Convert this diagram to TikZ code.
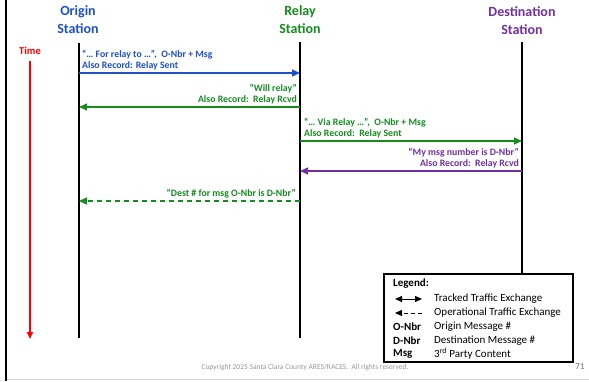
\documentclass[tikz,border=0pt]{standalone}
\usepackage{fontspec}
\setmainfont{Carlito}
\usetikzlibrary{arrows.meta}

\begin{document}
\begin{tikzpicture}[x=1pt,y=-1pt,
    title/.style={font=\fontsize{14}{18}\selectfont\bfseries,align=center},
    msglabel/.style={font=\fontsize{9.8}{11}\selectfont\bfseries,inner sep=1pt},
    legendtext/.style={font=\fontsize{11}{13}\selectfont,anchor=west,inner sep=0pt},
    lifeline/.style={line width=2.6pt},
    traffic/.style={line width=1.2pt,-{Triangle[length=8pt,width=7pt]}}]
  \definecolor{kBlue}{RGB}{30,80,200}
  \definecolor{kGreen}{RGB}{20,140,30}
  \definecolor{kPurple}{RGB}{112,48,160}
  \definecolor{kRed}{RGB}{255,0,0}
  \definecolor{kGrey}{RGB}{150,150,150}

  \useasboundingbox (0,0) rectangle (589,381);

  % page edges
  \draw[line width=2pt] (6,0) -- (6,381);
  \draw[color=kGrey!40,line width=1pt] (7,379.5) -- (589,379.5);

  % stations
  \node[title,text=kBlue]   (origin) at (78,20)  {Origin\\Station};
  \node[title,text=kGreen]  (relay)  at (300,20) {Relay\\Station};
  \node[title,text=kPurple] (dest)   at (522,21) {Destination\\Station};

  \coordinate (oTop) at (79,43);  \coordinate (oBot) at (79,338);
  \coordinate (rTop) at (300,42); \coordinate (rBot) at (300,338);
  \coordinate (dTop) at (522,42); \coordinate (dBot) at (522,274);
  \draw[lifeline] (oTop) -- (oBot);
  \draw[lifeline] (rTop) -- (rBot);
  \draw[lifeline] (dTop) -- (dBot);

  % time axis
  \node[font=\fontsize{10.5}{12}\selectfont\bfseries,text=kRed] (time) at (30,51) {Time};
  \coordinate (tTop) at (30,61);
  \coordinate (tBot) at (30,339);
  \draw[color=kRed,line width=1.6pt,-{Triangle[length=7pt,width=6pt]}] (tTop) -- (tBot);

  % messages
  \coordinate (m1a) at (79,73);  \coordinate (m1b) at (300,73);
  \coordinate (m2a) at (300,107); \coordinate (m2b) at (79,107);
  \coordinate (m3a) at (300,141); \coordinate (m3b) at (522,141);
  \coordinate (m4a) at (522,171); \coordinate (m4b) at (300,171);
  \coordinate (m5a) at (300,201); \coordinate (m5b) at (79,201);

  \draw[traffic,color=kBlue] (m1a) -- (m1b);
  \node[msglabel,text=kBlue,align=left,anchor=south west,xshift=2pt,yshift=2pt] (l1) at (m1a)
    {“… For relay to …”,\ \ O-Nbr + Msg\\Also Record: Relay Sent};

  \draw[traffic,color=kGreen] (m2a) -- (m2b);
  \node[msglabel,text=kGreen,align=right,anchor=south east,xshift=-2pt,yshift=2pt] (l2) at (m2a)
    {“Will relay”\\Also Record:\ \ Relay Rcvd};

  \draw[traffic,color=kGreen] (m3a) -- (m3b);
  \node[msglabel,text=kGreen,align=left,anchor=south west,xshift=3pt,yshift=2pt] (l3) at (m3a)
    {“… Via Relay …”,\ \ O-Nbr + Msg\\Also Record:\ \ Relay Sent};

  \draw[traffic,color=kPurple] (m4a) -- (m4b);
  \node[msglabel,text=kPurple,align=right,anchor=south east,xshift=-2pt,yshift=2pt] (l4) at (m4a)
    {“My msg number is D-Nbr”\\Also Record:\ \ Relay Rcvd};

  \draw[traffic,color=kGreen,dash pattern=on 5pt off 4pt] (m5a) -- (m5b);
  \node[msglabel,text=kGreen,anchor=south east,xshift=-3pt,yshift=2pt] (l5) at (m5a)
    {“Dest \# for msg O-Nbr is D-Nbr”};

  % legend
  \draw[line width=1.5pt,fill=white] (384,274) rectangle (573,362);
  \node[legendtext,font=\fontsize{11}{13}\selectfont\bfseries] (legend) at (393,284) {Legend:};
  \coordinate (k1a) at (395,299); \coordinate (k1b) at (422,299);
  \coordinate (k2a) at (422,313); \coordinate (k2b) at (395,313);
  \draw[line width=1pt,{Triangle[length=7pt,width=6pt]}-{Triangle[length=7pt,width=6pt]}] (k1a) -- (k1b);
  \draw[line width=1pt,dash pattern=on 4pt off 3pt,-{Triangle[length=7pt,width=6pt]}] (k2a) -- (k2b);
  \node[legendtext] (tracked) at (434,299) {Tracked Traffic Exchange};
  \node[legendtext] (oper)    at (434,313) {Operational Traffic Exchange};
  \foreach \y/\abbr/\desc in {327/O-Nbr/Origin Message \#,
                              341/D-Nbr/Destination Message \#,
                              354/Msg/3\textsuperscript{rd} Party Content}
  {
    \node[legendtext,font=\fontsize{11}{13}\selectfont\bfseries] at (393,\y) {\abbr};
    \node[legendtext] at (434,\y) {\desc};
  }

  % footer
  \node[font=\fontsize{7.5}{8}\selectfont,text=kGrey] (copy) at (305,368)
    {Copyright 2025 Santa Clara County ARES/RACES.\ \ All rights reserved.};
  \node[font=\fontsize{9}{10}\selectfont,text=kGrey!70!black] (page) at (580,367) {71};
\end{tikzpicture}
\end{document}
